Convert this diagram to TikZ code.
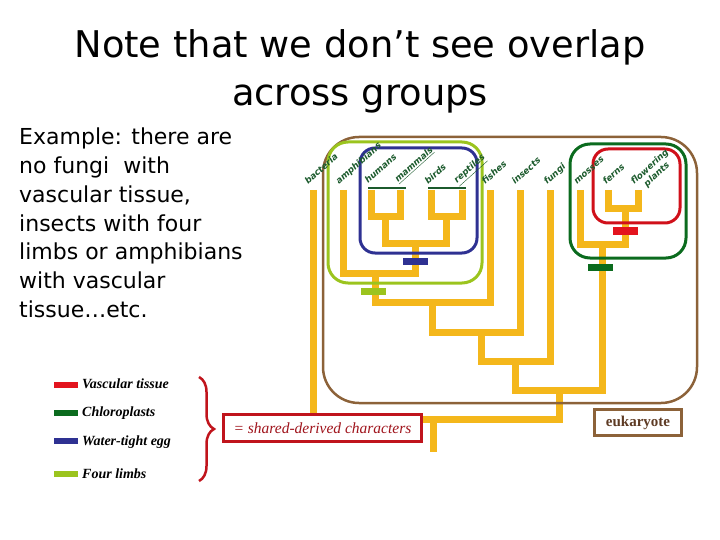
\documentclass[tikz,border=0pt]{standalone}
\usepackage{fontspec}
\setmainfont{Liberation Serif}
\newfontfamily\titlefont{DejaVu Sans}
\newfontfamily\labfont{DejaVu Sans}
\usetikzlibrary{decorations.pathreplacing,calc}
\definecolor{tree}{HTML}{F4B71B}
\definecolor{eukbrown}{HTML}{8C6239}
\definecolor{limbgreen}{HTML}{9BC41E}
\definecolor{eggblue}{HTML}{2E3192}
\definecolor{chlgreen}{HTML}{0B6B1E}
\definecolor{vasc}{HTML}{E3141E}
\definecolor{vascbox}{HTML}{D0101A}
\definecolor{labgreen}{HTML}{1B5A2C}
\definecolor{dred}{HTML}{C0141C}
\definecolor{dredtext}{HTML}{A0141C}
\definecolor{euktext}{HTML}{5E3B24}
\begin{document}
\begin{tikzpicture}[x=1pt,y=-1pt,
  branch/.style={draw=tree, line width=7pt, line join=miter, line cap=butt},
  cladebox/.style={line width=3pt},
  charbar/.style={minimum width=25pt, minimum height=7pt, inner sep=0pt, outer sep=0pt},
  legbar/.style={minimum width=24pt, minimum height=6pt, inner sep=0pt},
  legtext/.style={anchor=base west, inner sep=0pt, font=\fontsize{14}{15}\selectfont\bfseries\itshape},
  bodyline/.style={anchor=base west, inner sep=0pt, font=\titlefont\fontsize{22}{28.7}\selectfont},
  taxon/.style={anchor=base west, rotate=42, inner sep=0pt, text=labgreen, font=\labfont\bfseries\itshape\fontsize{8.8}{10}\selectfont}]
\useasboundingbox (0,0) rectangle (720,540);

% title and text
\node[anchor=base, inner sep=0pt, font=\titlefont\fontsize{36.8}{44}\selectfont] (t1) at (360,58) {Note that we don’t see overlap};
\node[anchor=base, inner sep=0pt, font=\titlefont\fontsize{36.8}{44}\selectfont] (t2) at (360,106) {across groups};
\node[bodyline] (ex1) at (19,145) {Example: there are};
\node[bodyline] (ex2) at (19,173.7) {no fungi~ with};
\node[bodyline] (ex3) at (19,202.4) {vascular tissue,};
\node[bodyline] (ex4) at (19,231.1) {insects with four};
\node[bodyline] (ex5) at (19,259.8) {limbs or amphibians};
\node[bodyline] (ex6) at (19,288.5) {with vascular};
\node[bodyline] (ex7) at (19,317.2) {tissue…etc.};

% tips
\coordinate (bac) at (313,190);
\coordinate (amp) at (343,190);
\coordinate (hum) at (371,190);
\coordinate (mam) at (400,190);
\coordinate (bir) at (431,190);
\coordinate (rep) at (462,190);
\coordinate (fis) at (490,190);
\coordinate (ins) at (520,190);
\coordinate (fun) at (550,190);
\coordinate (mos) at (580,190);
\coordinate (fer) at (608,190);
\coordinate (flo) at (638,190);
% junctions
\coordinate (jhm) at (385,217);
\coordinate (jbr) at (446,217);
\coordinate (jamn) at (415,243);
\coordinate (jtet) at (375,273);
\coordinate (jfis) at (432,302);
\coordinate (jins) at (481,332);
\coordinate (jfun) at (515,361);
\coordinate (jff) at (625,209);
\coordinate (jpl) at (602,244);
\coordinate (jeuk) at (559,390);
\coordinate (jroot) at (433,419);
\coordinate (root) at (433,452);

% tree
\draw[branch] (hum) |- (jhm) -| (mam);
\draw[branch] (bir) |- (jbr) -| (rep);
\draw[branch] (jhm) |- (jamn) -| (jbr);
\draw[branch] (amp) |- (jtet) -| (jamn);
\draw[branch] (jtet) |- (jfis) -| (fis);
\draw[branch] (jfis) |- (jins) -| (ins);
\draw[branch] (jins) |- (jfun) -| (fun);
\draw[branch] (fer) |- (jff) -| (flo);
\draw[branch] (mos) |- (jpl) -| (jff);
\draw[branch] (jfun) |- (jeuk) -| (jpl);
\draw[branch] (bac) |- (jroot) -| (jeuk);
\draw[branch] (jroot) -- (root);

% thin lines on top of tips
\coordinate (hl1) at (368,188); \coordinate (hl2) at (406,188);
\coordinate (hl3) at (428,188); \coordinate (hl4) at (466,188);
\draw[labgreen, line width=2pt] (hl1) -- (hl2);
\draw[labgreen, line width=2pt] (hl3) -- (hl4);

% clade boxes
\draw[eukbrown, line width=2.5pt, rounded corners=36pt] (323,137) rectangle (697,403);
\draw[limbgreen, cladebox, rounded corners=20pt] (328,142) rectangle (482,283);
\draw[eggblue, cladebox, rounded corners=15pt] (360,148) rectangle (477,253);
\draw[chlgreen, cladebox, rounded corners=20pt] (570,144) rectangle (686,258);
\draw[vascbox, cladebox, rounded corners=15pt] (593,149) rectangle (680,223);

% character bars
\node[charbar, fill=eggblue] (begg) at (415,261) {};
\node[charbar, fill=limbgreen] (blimb) at (373,291.5) {};
\node[charbar, fill=vasc] (bvasc) at (625,231) {};
\node[charbar, fill=chlgreen] (bchl) at (600,267.5) {};

% taxon labels
\node[taxon] (lbac) at ($(bac)+(-5,-5)$) {bacteria};
\node[taxon] (lamp) at ($(amp)+(-4,-5)$) {amphibians};
\node[taxon] (lhum) at ($(hum)+(-3,-6)$) {humans};
\node[taxon] (lmam) at ($(mam)+(-2,-7)$) {\underline{mammals}};
\node[taxon] (lbir) at ($(bir)+(-3,-5)$) {birds};
\node[taxon] (lrep) at ($(rep)+(-5,-6)$) {\underline{reptiles}};
\node[taxon] (lfis) at ($(fis)+(-5,-5)$) {fishes};
\node[taxon] (lins) at ($(ins)+(-5,-5)$) {insects};
\node[taxon] (lfun) at ($(fun)+(-3,-5)$) {fungi};
\node[taxon] (lmos) at ($(mos)+(-3,-5)$) {mosses};
\node[taxon] (lfer) at ($(fer)+(-2,-5)$) {ferns};
\node[taxon] (lflo) at ($(flo)+(-4,-5)$) {flowering};
\node[taxon, anchor=north] (lpla) at ($(lflo.south)+(1,1)$) {plants};

% legend
\node[legbar, fill=vasc] (lgv) at (66,384.5) {};
\node[legtext] (tgv) at (82,388.5) {Vascular tissue};
\node[legbar, fill=chlgreen] (lgc) at (66,412.5) {};
\node[legtext] (tgc) at (82,416.5) {Chloroplasts};
\node[legbar, fill=eggblue] (lge) at (66,441) {};
\node[legtext] (tge) at (82,445) {Water-tight egg};
\node[legbar, fill=limbgreen] (lgl) at (66,474) {};
\node[legtext] (tgl) at (82,478) {Four limbs};

\coordinate (br1) at (199,377);
\coordinate (br2) at (199,481);
\draw[dred, line width=2.5pt, decorate, decoration={brace, amplitude=15pt}] (br1) -- (br2);

\node[draw=dred, line width=3pt, fill=white, minimum width=198pt, minimum height=27pt, inner sep=0pt,
  text=dredtext, font=\fontsize{15.5}{17}\selectfont\itshape] (shared) at (322.5,428) {= shared-derived characters};

\node[draw=eukbrown, line width=3pt, fill=white, minimum width=87pt, minimum height=26pt, inner sep=0pt,
  text=euktext, font=\fontsize{15}{17}\selectfont\bfseries] (euk) at (638,422.5) {eukaryote};
\end{tikzpicture}
\end{document}
